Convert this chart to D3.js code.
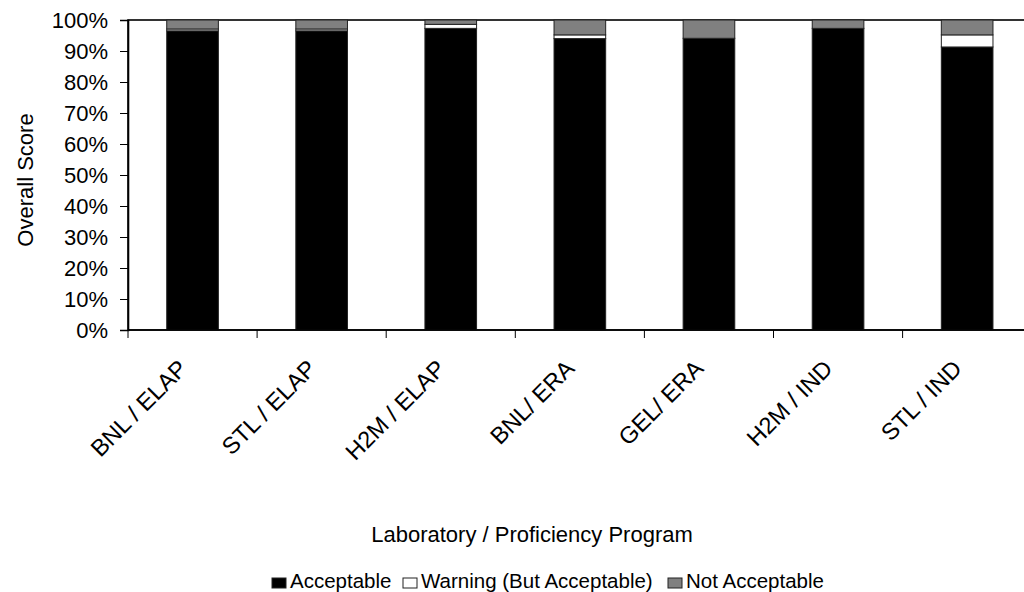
<!DOCTYPE html>
<html>
<head>
<meta charset="utf-8">
<script src="https://cdn.jsdelivr.net/npm/d3@7"></script>
<style>
  body { margin: 0; background: #fff; }
  svg { display: block; }
  text { font-family: "Liberation Sans", Arial, sans-serif; fill: #000; }
</style>
</head>
<body>
<svg id="chart" width="1024" height="592"></svg>
<script>
const categories = ["BNL / ELAP", "STL / ELAP", "H2M / ELAP", "BNL/ ERA", "GEL/ ERA", "H2M / IND", "STL / IND"];
const acceptable = [96.5, 96.5, 97.3, 94.0, 94.1, 97.3, 91.3];
const warning = [0.6, 0.6, 1.3, 1.2, 0.0, 0.0, 3.9];
const notAcceptable = [2.9, 2.9, 1.4, 4.8, 5.9, 2.7, 4.8];
const seriesNames = ["Acceptable", "Warning (But Acceptable)", "Not Acceptable"];
const seriesColors = ["#000000", "#ffffff", "#808080"];
const yTicks = [0, 0.1, 0.2, 0.3, 0.4, 0.5, 0.6, 0.7, 0.8, 0.9, 1.0];

const svg = d3.select("#chart");
const pLeft = 128, pTop = 20, pBottom = 330, step = 129.1;
const pRight = pLeft + step * categories.length;

const rows = categories.map((c, i) => ({
  cat: c,
  [seriesNames[0]]: acceptable[i],
  [seriesNames[1]]: warning[i],
  [seriesNames[2]]: notAcceptable[i]
}));
const stacked = d3.stack().keys(seriesNames).offset(d3.stackOffsetExpand)(rows);

const x = d3.scaleBand().domain(categories).range([pLeft, pRight]).paddingInner(0.6).paddingOuter(0.3);
const y = d3.scaleLinear().domain([0, 1]).range([pBottom, pTop]);
const color = d3.scaleOrdinal().domain(seriesNames).range(seriesColors);

// plot area border
svg.append("rect").attr("x", pLeft).attr("y", pTop).attr("width", pRight - pLeft).attr("height", pBottom - pTop)
  .attr("fill", "none").attr("stroke", "#000").attr("stroke-width", 1.6);

// bars
svg.append("g").selectAll("g").data(stacked).join("g")
  .attr("fill", d => color(d.key))
  .selectAll("rect").data(d => d.filter(p => p[1] - p[0] > 0)).join("rect")
  .attr("x", d => x(d.data.cat))
  .attr("width", x.bandwidth())
  .attr("y", d => y(d[1]))
  .attr("height", d => y(d[0]) - y(d[1]))
  .attr("stroke", "#222").attr("stroke-width", 1);

// y axis
const yAxis = svg.append("g").attr("transform", `translate(${pLeft},0)`)
  .call(d3.axisLeft(y).tickValues(yTicks).tickFormat(d3.format(".0%")).tickSize(8).tickPadding(12));
yAxis.select(".domain").attr("stroke", "#000").attr("stroke-width", 1.6);
yAxis.selectAll(".tick line").attr("stroke", "#000");
yAxis.selectAll("text").style("font-size", "22px").attr("dy", "0.36em");

// x axis: ticks between categories
const xg = svg.append("g").attr("transform", `translate(0,${pBottom})`);
xg.append("line").attr("x1", pLeft).attr("x2", pRight).attr("stroke", "#000").attr("stroke-width", 1.6);
const boundaries = categories.map(c => x(c) - x.step() * x.paddingInner() / 2);
xg.selectAll(".xt").data(boundaries).join("line").attr("class", "xt")
  .attr("x1", d => d).attr("x2", d => d).attr("y1", 0).attr("y2", 8).attr("stroke", "#000");
xg.selectAll(".xl").data(categories).join("text").attr("class", "xl")
  .attr("text-anchor", "end")
  .attr("transform", d => `translate(${x(d) + x.bandwidth() / 2 - 4},${40}) rotate(-45)`)
  .style("font-size", "23.5px")
  .text(d => d);

// axis titles
svg.append("text").attr("x", 532).attr("y", 542).attr("text-anchor", "middle")
  .style("font-size", "22px").text("Laboratory / Proficiency Program");
svg.append("text").attr("transform", "translate(33,180) rotate(-90)").attr("text-anchor", "middle")
  .style("font-size", "22px").text("Overall Score");

// legend
const legendX = [272, 403, 668];
const lg = svg.append("g").selectAll("g").data(seriesNames).join("g")
  .attr("transform", (d, i) => `translate(${legendX[i]},577)`);
lg.append("rect").attr("width", 14).attr("height", 10).attr("y", 1)
  .attr("fill", d => color(d)).attr("stroke", "#222");
lg.append("text").attr("x", 18).attr("y", 11).style("font-size", "20.5px").text(d => d);
</script>
</body>
</html>
